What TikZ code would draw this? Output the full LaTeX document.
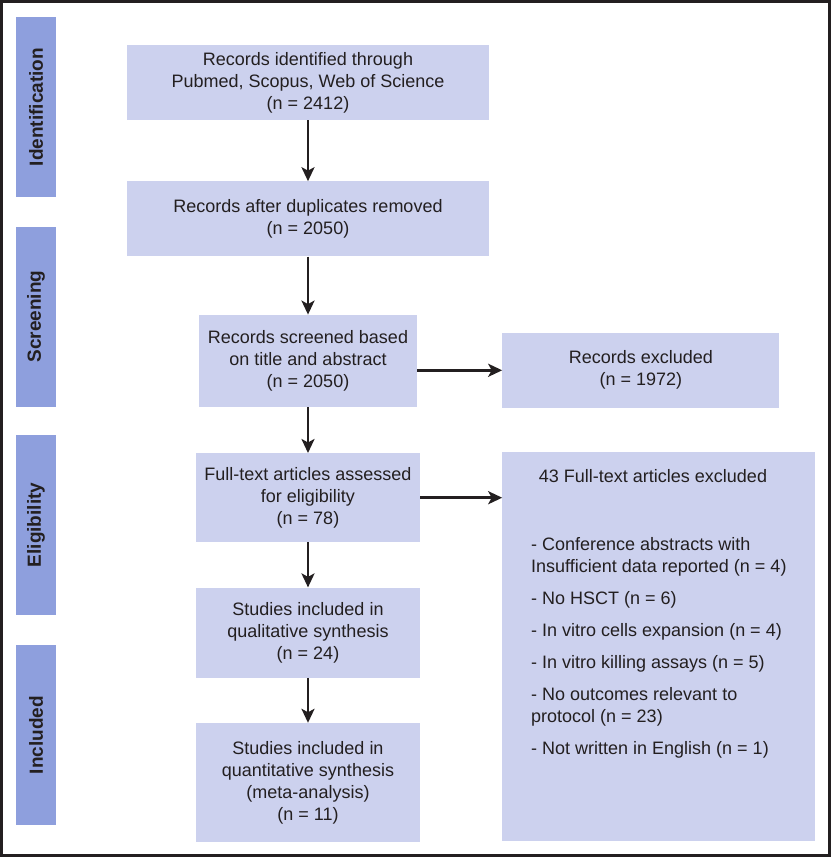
\documentclass[tikz,border=0pt]{standalone}
\usepackage{fontspec}
\setmainfont{Liberation Sans}
\usetikzlibrary{positioning,arrows.meta}

\definecolor{boxfill}{HTML}{CCD1EE}
\definecolor{stagefill}{HTML}{8E9FDD}
\definecolor{inkgray}{HTML}{231F20}

\begin{document}
\begin{tikzpicture}[x=1pt,y=-1pt,
  box/.style={fill=boxfill, inner sep=0pt, align=center, text=inkgray,
    font=\fontsize{18}{22}\selectfont},
  listtext/.style={inner sep=0pt, text=inkgray, font=\fontsize{18}{22}\selectfont},
  stage/.style={fill=stagefill, rotate=90, minimum width=180pt, minimum height=40pt,
    inner sep=0pt, text=inkgray, font=\fontsize{19}{22}\selectfont\bfseries},
  flow/.style={-{Stealth[length=14pt,width=13pt,inset=3.5pt]}, line width=2.6pt, draw=inkgray}]
  \useasboundingbox (0,0) rectangle (832,857);
  \draw[line width=3pt, draw=inkgray] (1.5,1.5) rectangle (829,855.5);

  % stages
  \node[stage] (sident) at (36,107) {Identification};
  \node[stage] (sscreen) at (36,316.5) {Screening};
  \node[stage] (selig) at (36,525) {Eligibility};
  \node[stage] (sincl) at (36,735) {Included};

  % main flow
  \node[box, minimum width=362pt, minimum height=75pt] (ident) at (308,82.5)
    {Records identified through\\Pubmed, Scopus, Web of Science\\(n = 2412)};
  \node[box, minimum width=362pt, minimum height=75pt, below=61pt of ident] (dupl)
    {Records after duplicates removed\\(n = 2050)};
  \node[box, minimum width=218pt, minimum height=92pt, below=58pt of dupl] (screen)
    {Records screened based\\on title and abstract\\(n = 2050)};
  \node[box, minimum width=224pt, minimum height=89pt, below=46pt of screen] (full)
    {Full-text articles assessed\\for eligibility\\(n = 78)};
  \node[box, minimum width=224pt, minimum height=90pt, below=45pt of full] (qual)
    {Studies included in\\qualitative synthesis\\(n = 24)};
  \node[box, minimum width=224pt, minimum height=119pt, below=45pt of qual] (quant)
    {Studies included in\\quantitative synthesis\\(meta-analysis)\\(n = 11)};

  % exclusions
  \node[box, minimum width=277pt, minimum height=75pt,
    right=85pt of screen.south east, anchor=south west, yshift=-1pt] (excl1)
    {Records excluded\\(n = 1972)};
  \node[box, minimum width=313pt, minimum height=389pt,
    right=82pt of full.north east, anchor=north west, yshift=1pt] (excl2) {};
  \node[listtext, anchor=base] (exclhead) at (653,482) {43 Full-text articles excluded};
  \node[listtext, anchor=north west, align=left] (excllist) at (531,537)
    {- Conference abstracts with\\Insufficient data reported (n = 4)\\[10pt]
     - No HSCT (n = 6)\\[10pt]
     - In vitro cells expansion (n = 4)\\[10pt]
     - In vitro killing assays (n = 5)\\[10pt]
     - No outcomes relevant to\\protocol (n = 23)\\[10pt]
     - Not written in English (n = 1)};

  \draw[flow] (ident) -- (dupl);
  \draw[flow] (dupl) -- (screen);
  \draw[flow] (screen) -- (full);
  \draw[flow] (full) -- (qual);
  \draw[flow] (qual) -- (quant);
  \draw[flow] (excl1.west -| screen.east) -- (excl1.west);
  \draw[flow] (full.east) -- (full.east -| excl2.west);
\end{tikzpicture}
\end{document}
